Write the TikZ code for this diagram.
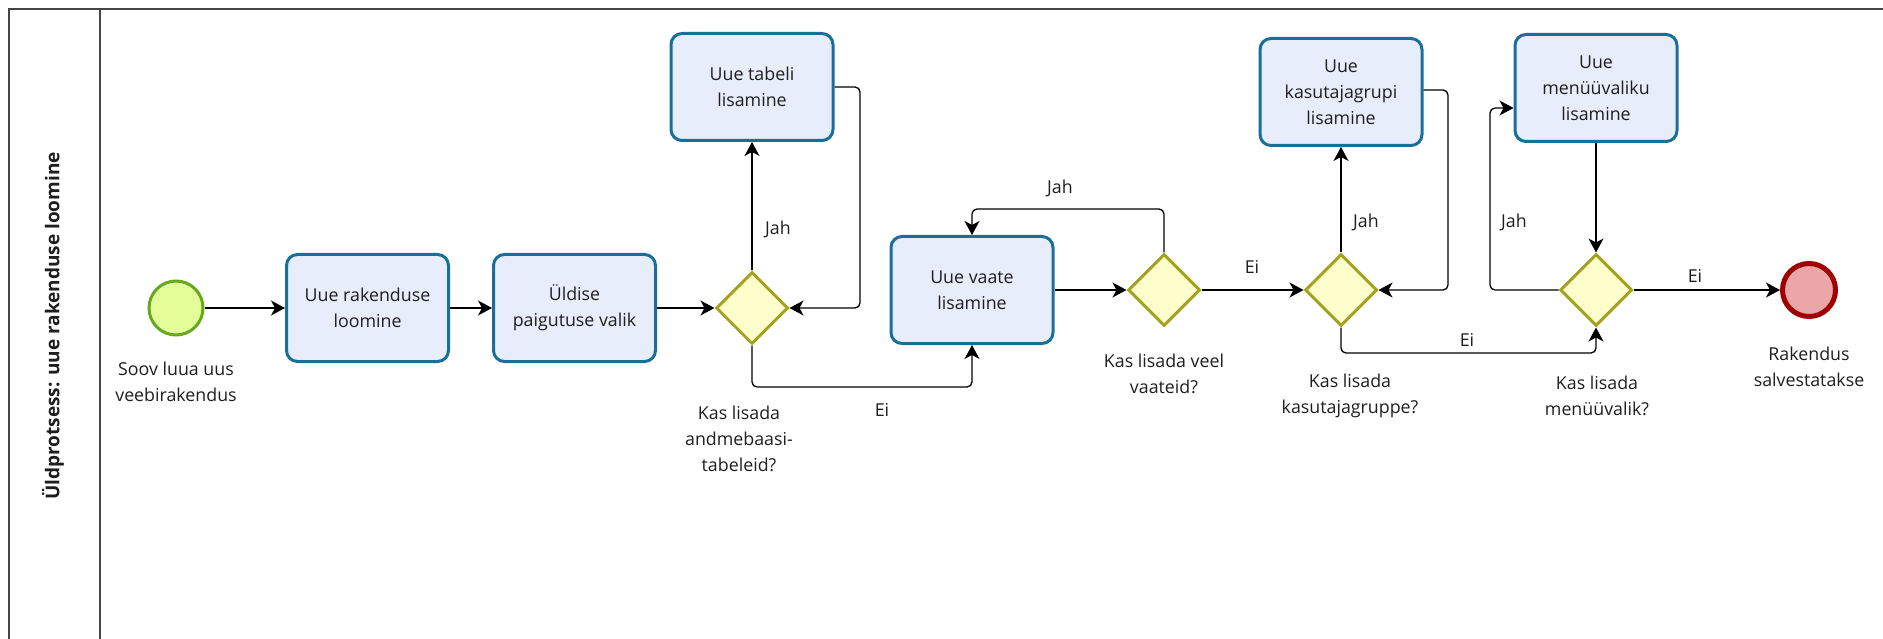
\documentclass[tikz,border=0pt]{standalone}
\usepackage{fontspec}
\setmainfont{Open Sans}
\usetikzlibrary{arrows.meta,shapes.geometric}

\definecolor{taskfill}{HTML}{E8EDFC}
\definecolor{taskline}{HTML}{1A6E9A}
\definecolor{gatefill}{HTML}{FEFECC}
\definecolor{gateline}{HTML}{A3A320}
\definecolor{startfill}{HTML}{E3FD98}
\definecolor{startline}{HTML}{66A81E}
\definecolor{endfill}{HTML}{EBA7A7}
\definecolor{endline}{HTML}{A00000}
\definecolor{poolline}{HTML}{454545}
\definecolor{inktext}{HTML}{1E1E1E}

\begin{document}
\begin{tikzpicture}[
  x=1pt, y=-1pt,
  font=\fontsize{17.8}{26}\selectfont,
  task/.style={rectangle, rounded corners=11pt, draw=taskline, fill=taskfill,
    line width=3pt, minimum width=162pt, minimum height=107pt,
    align=center, inner sep=0pt, text=inktext},
  gate/.style={diamond, draw=gateline, fill=gatefill, line width=3pt,
    minimum width=72pt, minimum height=72pt, inner sep=0pt},
  startev/.style={circle, draw=startline, fill=startfill, line width=3pt,
    minimum size=54pt, inner sep=0pt},
  endev/.style={circle, draw=endline, fill=endfill, line width=5pt,
    minimum size=53pt, inner sep=0pt},
  flow/.style={draw=black, line width=1.3pt, rounded corners=5pt,
    -{Stealth[length=14pt,width=15pt,inset=4pt]}},
  lbl/.style={align=center, inner sep=0pt, text=inktext},
]
\useasboundingbox (0,0) rectangle (1883,639);

% pool and lane frame
\draw[poolline, line width=2pt] (9,639) -- (9,9.5) -- (1883,9.5);
\draw[poolline, line width=2pt] (99.5,9.5) -- (99.5,639);
\node[rotate=90, font=\fontsize{19}{22}\selectfont\bfseries, text=inktext]
  (pool) at (53,326) {Üldprotsess: uue rakenduse loomine};

% events, tasks and gateways
\node[startev] (start) at (176,308) {};
\node[task] (create) at (367.5,308) {Uue rakenduse\\loomine};
\node[task] (layout) at (574.5,308) {Üldise\\paigutuse valik};
\node[gate] (gtable) at (752,308) {};
\node[task] (table) at (752,87) {Uue tabeli\\lisamine};
\node[task] (view) at (972,290) {Uue vaate\\lisamine};
\node[gate] (gview) at (1164,290) {};
\node[gate] (ggroup) at (1341,290) {};
\node[task] (group) at (1341,92) {Uue\\kasutajagrupi\\lisamine};
\node[gate] (gmenu) at (1596,290) {};
\node[task] (menu) at (1596,88) {Uue\\menüüvaliku\\lisamine};
\node[endev] (finish) at (1809,290) {};

% captions
\node[lbl] (startcap) at (176,381.5) {Soov luua uus\\veebirakendus};
\node[lbl] (gtablecap) at (739,439) {Kas lisada\\andmebaasi-\\tabeleid?};
\node[lbl] (gviewcap) at (1164,373.5) {Kas lisada veel\\vaateid?};
\node[lbl] (ggroupcap) at (1350,396) {Kas lisada\\kasutajagruppe?};
\node[lbl] (gmenucap) at (1597,395.5) {Kas lisada\\menüüvalik?};
\node[lbl] (finishcap) at (1809,366.5) {Rakendus\\salvestatakse};

% sequence flows
\draw[flow] (start) -- (create);
\draw[flow] (create) -- (layout);
\draw[flow] (layout) -- (gtable);
\draw[flow] (gtable.north) -- (table.south);
\node[lbl] (ltab1) at (778,229) {Jah};
\draw[flow] (table.east |- 0,87) -- (860,87) -- (860,308) -- (gtable.east);
\draw[flow] (gtable.south) -- (752,387) -- (972,387) -- (view.south);
\node[lbl] (ltab2) at (882,410) {Ei};
\draw[flow] (view) -- (gview);
\draw[flow] (gview.north) -- (1164,209) -- (972,209) -- (view.north);
\node[lbl] (lview1) at (1060,188) {Jah};
\draw[flow] (gview) -- (ggroup);
\node[lbl] (lview2) at (1252,267) {Ei};
\draw[flow] (ggroup.north) -- (group.south);
\node[lbl] (lgroup1) at (1366,222) {Jah};
\draw[flow] (group.east |- 0,90) -- (1448,90) -- (1448,290) -- (ggroup.east);
\draw[flow] (ggroup.south) -- (1341,353) -- (1596,353) -- (gmenu.south);
\node[lbl] (lgroup2) at (1467,340) {Ei};
\draw[flow] (menu.south) -- (gmenu.north);
\draw[flow] (gmenu.west) -- (1490,290) -- (1490,108) -- (menu.west |- 0,108);
\node[lbl] (lmenu1) at (1514,222) {Jah};
\draw[flow] (gmenu.east) -- (finish.west);
\node[lbl] (lmenu2) at (1695,276) {Ei};
\end{tikzpicture}
\end{document}
